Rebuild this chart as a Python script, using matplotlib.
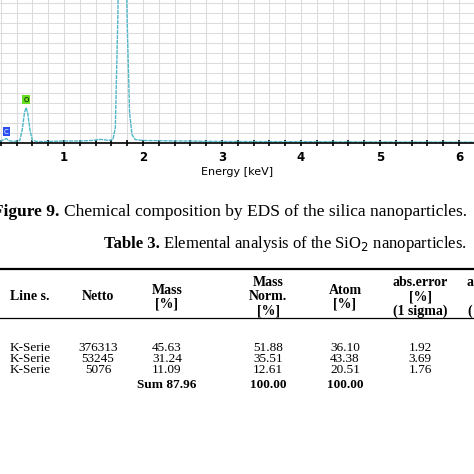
import matplotlib.pyplot as plt
import matplotlib.ticker as ticker

# EDS spectrum (energy in keV, counts in arbitrary units)
energy = [0.19, 0.24, 0.27, 0.30, 0.36, 0.44, 0.47, 0.50, 0.52, 0.54, 0.57, 0.60, 0.66, 0.8, 1.0,
          1.2, 1.35, 1.45, 1.5, 1.56, 1.62, 1.65, 1.68, 1.71, 1.74, 1.77, 1.80, 1.83, 1.86, 1.9,
          2.0, 2.5, 3.0, 4.0, 5.0, 6.2]
counts = [1, 3, 4, 2, 1, 2, 12, 30, 35, 30, 12, 2, 1, 1, 1.5,
          1.5, 2, 3, 3, 2, 3, 15, 120, 260, 300, 260, 120, 30, 8, 3,
          2, 1.5, 1, 0.8, 0.5, 0.3]
peak_labels = ["C", "O"]
peak_pos = [(0.27, 8), (0.52, 40)]
peak_colors = ["#2a4ff0", "#66dd22"]

col_headers = ["Line s.", "Netto", "Mass\n[%]", "Mass\nNorm.\n[%]", "Atom\n[%]", "abs.error\n[%]\n(1 sigma)", "a\n\n("]
rows = [
    ["K-Serie", "376313", "45.63", "51.88", "36.10", "1.92"],
    ["K-Serie", "53245", "31.24", "35.51", "43.38", "3.69"],
    ["K-Serie", "5076", "11.09", "12.61", "20.51", "1.76"],
]
sum_row = ["", "", "Sum 87.96", "100.00", "100.00", ""]

W = H = 474
fig = plt.figure(figsize=(4.74, 4.74), dpi=100)


def px(x, y):
    return x / W, 1 - y / H


# spectrum panel
ax = fig.add_axes([0, 1 - 143 / H, 1, 143 / H])
ax.plot(energy, counts, color="#4fb8c8", lw=1.0, ls=(0, (3, 0.6)))
ax.set_xlim(0.19, 6.19)
ax.set_ylim(-0.5, 143)
ax.xaxis.set_major_locator(ticker.MultipleLocator(1))
ax.xaxis.set_minor_locator(ticker.MultipleLocator(0.2))
ax.set_yticks([])
ax.set_yticks(range(0, 143, 10), minor=True)
ax.grid(True, which="both", color="#dddddd", lw=0.8)
ax.tick_params(axis="y", which="both", length=0)
ax.tick_params(axis="x", which="both", direction="inout", length=5, width=1.2, labelsize=8.5)
for lab in ax.get_xticklabels():
    lab.set_fontweight("bold")
for s in ["top", "left", "right"]:
    ax.spines[s].set_visible(False)
ax.spines["bottom"].set_linewidth(1.2)
ax.set_xlabel("Energy [keV]", fontsize=8, labelpad=2)
for lab, (x, y), c in zip(peak_labels, peak_pos, peak_colors):
    ax.text(x, y, lab, fontsize=5, ha="center", va="bottom", color="white" if lab == "C" else "black",
            bbox=dict(boxstyle="square,pad=0.2", fc=c, ec="none"))

serif = ["Liberation Serif", "DejaVu Serif"]
cap = dict(fontsize=12.5, family=serif, va="center")
fig.text(*px(59, 212), "Figure 9.", ha="right", weight="bold", **cap)
fig.text(*px(64, 212), "Chemical composition by EDS of the silica nanoparticles.", **cap)
cap["fontsize"] = 12
fig.text(*px(104, 244), "Table 3.", weight="bold", **cap)
fig.text(*px(163, 244), "Elemental analysis of the SiO$_2$ nanoparticles.", **cap)

# table rules
for y, lw in [(269, 1.6), (318, 0.9)]:
    fig.add_artist(plt.Line2D([0, 1], [1 - y / H] * 2, color="black", lw=lw))

col_x = [30, 98, 167, 268, 345, 420, 470]
for x, h in zip(col_x, col_headers):
    fig.text(*px(x, 297), h, fontsize=10, family=serif, weight="bold", ha="center", va="center",
             linespacing=1.1)
for i, r in enumerate(rows):
    for x, v in zip(col_x, r):
        fig.text(*px(x, 348 + 11 * i), v, fontsize=9.5, family=serif, ha="center", va="center")
for x, v in zip(col_x, sum_row):
    fig.text(*px(x, 385), v, fontsize=9.5, family=serif, weight="bold", ha="center", va="center")

fig.savefig("out.png", dpi=100)
